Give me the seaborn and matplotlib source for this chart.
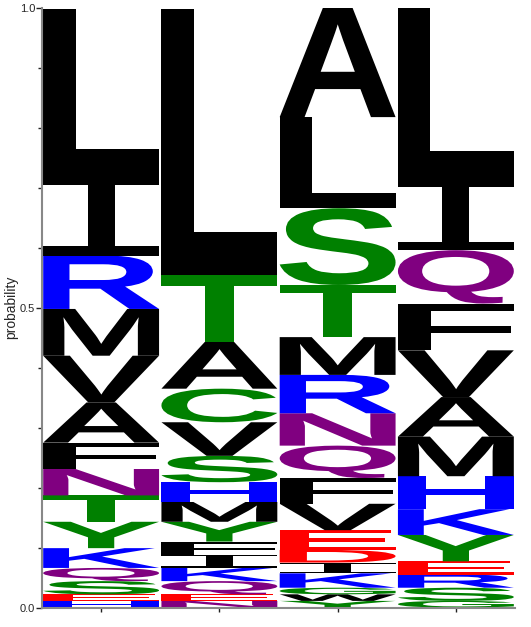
import matplotlib
matplotlib.use("Agg")
import matplotlib.pyplot as plt
import seaborn as sns
from matplotlib.textpath import TextPath
from matplotlib.patches import PathPatch
from matplotlib.font_manager import FontProperties
from matplotlib.transforms import Affine2D

# letters per position, listed top to bottom, with their probabilities
pos1_letters = ['L', 'I', 'R', 'M', 'V', 'A', 'F', 'N', 'T', 'Y', 'K', 'Q', 'S', 'E', 'H']
pos1_probs = [0.278, 0.133, 0.089, 0.078, 0.078, 0.067, 0.044, 0.044, 0.044, 0.044, 0.033, 0.022, 0.022, 0.011, 0.011]

pos2_letters = ['L', 'T', 'A', 'C', 'V', 'S', 'H', 'M', 'Y', 'F', 'I', 'K', 'Q', 'E', 'N']
pos2_probs = [0.444, 0.111, 0.078, 0.056, 0.056, 0.044, 0.033, 0.033, 0.033, 0.022, 0.022, 0.022, 0.022, 0.011, 0.011]

pos3_letters = ['A', 'L', 'S', 'T', 'M', 'R', 'N', 'Q', 'F', 'V', 'E', 'D', 'I', 'K', 'G', 'W', 'Y']
pos3_probs = [0.183, 0.152, 0.128, 0.087, 0.063, 0.064, 0.054, 0.054, 0.043, 0.044, 0.033, 0.021, 0.018, 0.024, 0.011, 0.011, 0.011]

pos4_letters = ['L', 'I', 'Q', 'F', 'V', 'A', 'M', 'H', 'K', 'Y', 'E', 'R', 'S', 'G']
pos4_probs = [0.286, 0.119, 0.089, 0.078, 0.078, 0.066, 0.066, 0.055, 0.043, 0.044, 0.022, 0.022, 0.022, 0.011]

positions = [1, 2, 3, 4]
columns = [(pos1_letters, pos1_probs), (pos2_letters, pos2_probs),
           (pos3_letters, pos3_probs), (pos4_letters, pos4_probs)]

# chemistry colour scheme
colors = {}
for aa in 'GSTYC':
    colors[aa] = '#008000'
for aa in 'KRH':
    colors[aa] = '#0000ff'
for aa in 'DE':
    colors[aa] = '#ff0000'
for aa in 'NQ':
    colors[aa] = '#800080'
for aa in 'AVLIPWFM':
    colors[aa] = '#000000'

sns.set_style("ticks")
plt.rcParams['font.family'] = ['Liberation Sans', 'DejaVu Sans']

sans_bold = FontProperties(family='Liberation Sans', weight='bold')
# a plain sans "I" would turn into a solid block once stretched, so use a mono I with bars
mono_i = FontProperties(family='Liberation Mono', weight='normal')


def draw_letter(ax, letter, x, y, w, h):
    prop = mono_i if letter == 'I' else sans_bold
    tp = TextPath((0, 0), letter, size=1, prop=prop)
    bb = tp.get_extents()
    tr = (Affine2D().translate(-bb.x0, -bb.y0)
          .scale(w / bb.width, h / bb.height)
          .translate(x, y))
    path = tr.transform_path(tp)
    ax.add_patch(PathPatch(path, facecolor=colors[letter], edgecolor='none', lw=0))


fig = plt.figure(figsize=(5.31, 6.27), dpi=100)
ax = fig.add_axes([42 / 531, 19.5 / 627, 473 / 531, 599.5 / 627])

width = 0.98
for pos, (letters, probs) in zip(positions, columns):
    y = 0.0
    for letter, p in zip(letters[::-1], probs[::-1]):
        draw_letter(ax, letter, pos - width / 2, y, width, p)
        y += p

ax.set_xlim(0.5, 4.5)
ax.set_ylim(0, 1.0)
ax.set_xticks(positions)
ax.set_xticklabels([])
ax.set_yticks([0, 0.5, 1.0])
ax.set_yticklabels(['0.0', '0.5', '1.0'])
ax.set_yticks([i / 10 for i in range(11)], minor=True)
ax.tick_params(axis='y', which='major', length=4, width=1, labelsize=8, pad=1, color='#222222')
ax.tick_params(axis='y', which='minor', length=3, width=1, color='#222222')
ax.tick_params(axis='x', which='major', length=3, width=1, color='#222222')
ax.set_ylabel('probability', fontsize=10, labelpad=1)
sns.despine(ax=ax)
for side in ['left', 'bottom']:
    ax.spines[side].set_color('#888888')
    ax.spines[side].set_linewidth(1.5)

fig.savefig('out.png', dpi=100)
